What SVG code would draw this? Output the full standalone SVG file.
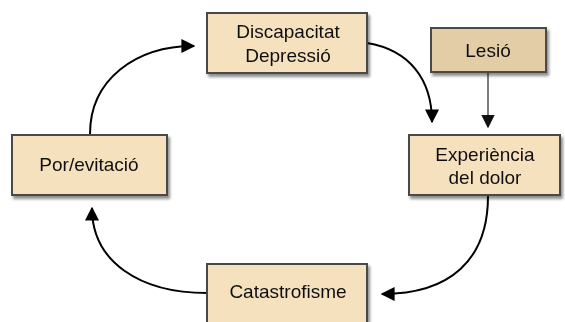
<svg xmlns="http://www.w3.org/2000/svg" width="565" height="322" viewBox="0 0 565 322">
<style>
.box{fill:#f6e1bf;stroke:#4a4a4a;stroke-width:2}
.dark{fill:#e2cda7}
.lbl{font-family:"Liberation Sans",Arial,sans-serif;font-size:19px;fill:#111;text-anchor:middle}
.con{fill:none;stroke:#000;stroke-width:2}
</style>
<defs>
<filter id="sh" x="-10%" y="-10%" width="130%" height="140%">
<feGaussianBlur in="SourceAlpha" stdDeviation="1.5"/>
<feOffset dx="2" dy="3" result="b"/>
<feComponentTransfer><feFuncA type="linear" slope="0.45"/></feComponentTransfer>
<feMerge><feMergeNode/><feMergeNode in="SourceGraphic"/></feMerge>
</filter>
<marker id="ar" viewBox="0 0 10 10" refX="9" refY="5" markerWidth="7" markerHeight="7" orient="auto" markerUnits="strokeWidth">
<path d="M0,0 L10,5 L0,10 z" fill="#000"/>
</marker>
<marker id="arg" viewBox="0 0 10 10" refX="9" refY="5" markerWidth="8" markerHeight="8" orient="auto" markerUnits="strokeWidth">
<path d="M0,0 L10,5 L0,10 z" fill="#111"/>
</marker>
</defs>
<g id="connectors">
<path class="con" d="M90,134 C90,80 135,46 194,46" marker-end="url(#ar)"/>
<path class="con" d="M367,43 C410,50 432,80 432,122" marker-end="url(#ar)"/>
<path d="M488,72 L488,127" fill="none" stroke="#666" stroke-width="1.7" marker-end="url(#arg)"/>
<path class="con" d="M488,196 C488,260 450,294 382,294" marker-end="url(#ar)"/>
<path class="con" d="M207,293 C140,293 92,262 92,208" marker-end="url(#ar)"/>
</g>
<g id="discapacitat" filter="url(#sh)">
<rect class="box" x="207" y="13" width="160" height="60"/>
<text class="lbl" x="288" y="38">Discapacitat</text>
<text class="lbl" x="288" y="62">Depressió</text>
</g>
<g id="lesio" filter="url(#sh)">
<rect class="box dark" x="431" y="28" width="115" height="44"/>
<text class="lbl" x="488" y="57">Lesió</text>
</g>
<g id="experiencia" filter="url(#sh)">
<rect class="box" x="409" y="135" width="151" height="60"/>
<text class="lbl" x="485" y="161">Experiència</text>
<text class="lbl" x="485" y="184">del dolor</text>
</g>
<g id="por" filter="url(#sh)">
<rect class="box" x="12" y="135" width="155" height="60"/>
<text class="lbl" x="89" y="171">Por/evitació</text>
</g>
<g id="catastrofisme" filter="url(#sh)">
<rect class="box" x="207" y="264" width="160" height="62"/>
<text class="lbl" x="288" y="298">Catastrofisme</text>
</g>
</svg>
